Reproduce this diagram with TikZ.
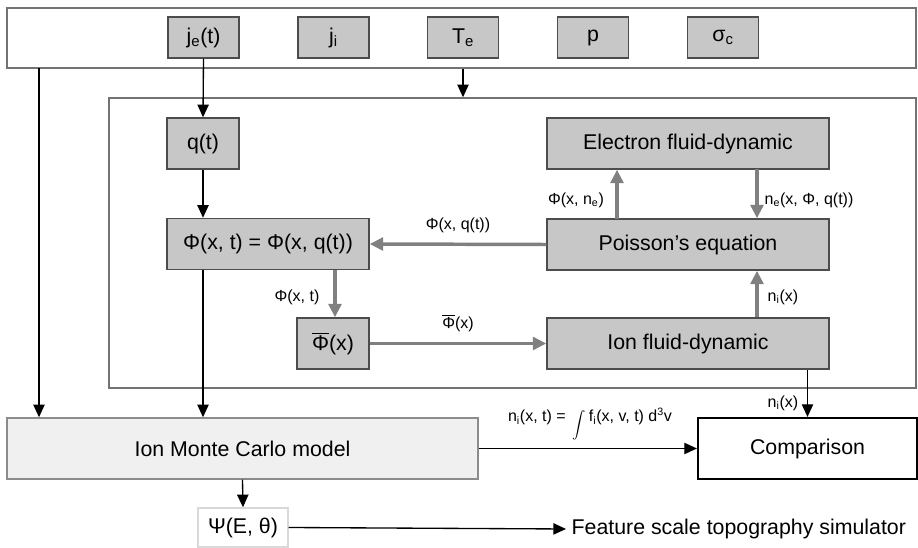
\documentclass[tikz,border=0pt]{standalone}
\usepackage{fontspec}
\setmainfont{Liberation Sans}
\usepackage{tikz}
\usetikzlibrary{arrows.meta,positioning,calc}

\tikzset{
  frame/.style={draw=black!55,line width=1.1pt,fill=white,inner sep=0pt},
  param/.style={draw=black!70,line width=1.1pt,fill=black!22,inner sep=0pt,
    minimum width=53.25pt,minimum height=30.75pt,font=\fontsize{16}{19}\selectfont},
  block/.style={draw=black!70,line width=1.1pt,fill=black!22,inner sep=0pt,
    minimum height=38.25pt,font=\fontsize{16}{19}\selectfont},
  lab/.style={inner sep=1pt,font=\fontsize{12}{14}\selectfont},
  link/.style={-{Triangle[length=9.5pt,width=8.5pt]},line width=1pt,black},
  flow/.style={-{Triangle[length=10pt,width=9.5pt]},line width=2.6pt,black!50}
}
\newcommand{\phibar}{$\overline{\mbox{Φ}}$}

\begin{document}
\begin{tikzpicture}[x=0.75pt,y=-0.75pt]
\useasboundingbox (0,0) rectangle (918,548);
% frames
\node[frame,minimum width=681.75pt,minimum height=45pt] (params) at (461.5,38) {};
\node[frame,minimum width=605.25pt,minimum height=217.5pt] (inner) at (512.5,243) {};
% input parameters
\node[param] (je) at (203.5,37.5) {j\textsubscript{e}(t)};
\node[param] (ji) at (333.5,37.5) {j\textsubscript{i}};
\node[param] (te) at (463,37.5) {T\textsubscript{e}};
\node[param] (pr) at (593,37.5) {p};
\node[param] (sc) at (723,37.5) {σ\textsubscript{c}};
% blocks
\node[block,minimum width=54pt] (q) at (203,143.5) {q(t)};
\node[block,minimum width=151.5pt] (phi) at (268,244) {Φ(x, t) = Φ(x, q(t))};
\node[block,minimum width=54pt] (phib) at (333,343.5) {\phibar(x)};
\node[block,minimum width=211.5pt] (el) at (688,143.5) {Electron fluid-dynamic};
\node[block,minimum width=211.5pt] (poi) at (688,244.5) {Poisson's equation};
\node[block,minimum width=211.5pt] (ion) at (688,343.5) {Ion fluid-dynamic};
\node[block,fill=black!6,draw=black!45,minimum width=353.25pt,minimum height=45.75pt] (mc) at (242.5,448.5) {Ion Monte Carlo model};
\node[block,fill=white,draw=black,line width=1.6pt,minimum width=164.25pt,minimum height=45.75pt] (comp) at (807.5,448.5) {Comparison};
\node[block,fill=white,draw=black!15,minimum width=67.5pt,minimum height=29.25pt] (psi) at (243,527.5) {Ψ(E, θ)};
\node[anchor=west,inner sep=4pt,font=\fontsize{16}{19}\selectfont] (feat) at (566,529) {Feature scale topography simulator};
% connectors
\coordinate (lft) at (39,68);
\draw[link] (lft) -- (lft |- mc.north);
\draw[link] (je.south) -- (q.north);
\draw[link] (te.south |- params.south) -- (te.south |- inner.north);
\draw[link] (q.south) -- (q.south |- phi.north);
\draw[link] (q.south |- phi.south) -- (q.south |- mc.north);
\draw[flow] (poi.west) -- (phi.east);
\draw[flow] (335,270) coordinate (pt) -- (pt |- phib.north);
\draw[flow] (phib.east) -- (ion.west);
\draw[flow] (617,219) coordinate (pu) -- (pu |- el.south);
\draw[flow] (757,169) coordinate (ed) -- (ed |- poi.north);
\draw[flow] (ed |- ion.north) -- (ed |- poi.south);
\draw[link] (comp.north |- ion.south) -- (comp.north);
\draw[link] (mc.east) -- (comp.west);
\draw[link] (mc.south) -- (psi.north);
\draw[link] (psi.east) -- (feat.west);
% labels
\node[lab] (l1) at (458,225) {Φ(x, q(t))};
\node[lab] (l2) at (297,297) {Φ(x, t)};
\node[lab] (l3) at (458,323) {\phibar(x)};
\node[lab] (l4) at (576,200) {Φ(x, n\textsubscript{e})};
\node[lab] (l5) at (809,200) {n\textsubscript{e}(x, Φ, q(t))};
\node[lab] (l6) at (783,297) {n\textsubscript{i}(x)};
\node[lab] (l7) at (783,403) {n\textsubscript{i}(x)};
\node[lab] (l8) at (590,424) {n\textsubscript{i}(x, t) = \,\raisebox{-0.45em}{$\displaystyle\int$}\,f\textsubscript{i}(x, v, t) d\textsuperscript{3}v};
\end{tikzpicture}
\end{document}
